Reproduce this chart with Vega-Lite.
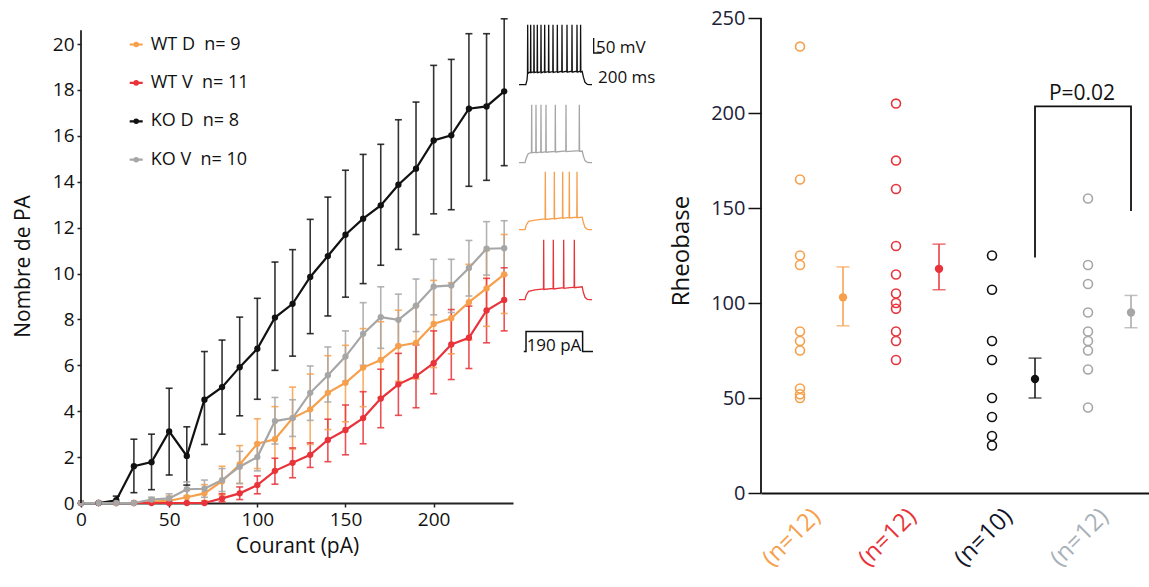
{
  "$schema": "https://vega.github.io/schema/vega-lite/v6.json",
  "padding": {"left": 12, "top": 8, "right": 0, "bottom": 0},
  "spacing": 3,
  "config": {"font": "Open Sans", "view": {"stroke": null}},
  "resolve": {"scale": {"x": "independent", "y": "independent", "color": "independent"}, "legend": {"color": "independent"}},
  "datasets": {
    "pa": [
      {"serie":"WT D","courant":0,"moy":0,"lo":null,"hi":null},
      {"serie":"WT D","courant":10,"moy":0,"lo":null,"hi":null},
      {"serie":"WT D","courant":20,"moy":0,"lo":null,"hi":null},
      {"serie":"WT D","courant":30,"moy":0,"lo":null,"hi":null},
      {"serie":"WT D","courant":40,"moy":0.05,"lo":0,"hi":0.15},
      {"serie":"WT D","courant":50,"moy":0.1,"lo":0,"hi":0.3},
      {"serie":"WT D","courant":60,"moy":0.25,"lo":0,"hi":0.55},
      {"serie":"WT D","courant":70,"moy":0.42,"lo":0.1,"hi":0.8},
      {"serie":"WT D","courant":80,"moy":0.95,"lo":0.35,"hi":1.6},
      {"serie":"WT D","courant":90,"moy":1.68,"lo":0.85,"hi":2.5},
      {"serie":"WT D","courant":100,"moy":2.58,"lo":1.5,"hi":3.67},
      {"serie":"WT D","courant":110,"moy":2.78,"lo":1.4,"hi":4.2},
      {"serie":"WT D","courant":120,"moy":3.7,"lo":2.35,"hi":5.05},
      {"serie":"WT D","courant":130,"moy":4.08,"lo":2.55,"hi":5.62},
      {"serie":"WT D","courant":140,"moy":4.8,"lo":3.2,"hi":6.42},
      {"serie":"WT D","courant":150,"moy":5.24,"lo":3.54,"hi":6.87},
      {"serie":"WT D","courant":160,"moy":5.9,"lo":4.2,"hi":7.6},
      {"serie":"WT D","courant":170,"moy":6.23,"lo":4.6,"hi":7.9},
      {"serie":"WT D","courant":180,"moy":6.84,"lo":5.3,"hi":8.4},
      {"serie":"WT D","courant":190,"moy":6.98,"lo":5.4,"hi":8.6},
      {"serie":"WT D","courant":200,"moy":7.8,"lo":5.9,"hi":9.7},
      {"serie":"WT D","courant":210,"moy":8.05,"lo":6.5,"hi":9.6},
      {"serie":"WT D","courant":220,"moy":8.75,"lo":7.1,"hi":10.4},
      {"serie":"WT D","courant":230,"moy":9.35,"lo":7.7,"hi":11.0},
      {"serie":"WT D","courant":240,"moy":9.96,"lo":8.26,"hi":11.7},
      {"serie":"WT V","courant":0,"moy":0,"lo":null,"hi":null},
      {"serie":"WT V","courant":10,"moy":0,"lo":null,"hi":null},
      {"serie":"WT V","courant":20,"moy":0,"lo":null,"hi":null},
      {"serie":"WT V","courant":30,"moy":0,"lo":null,"hi":null},
      {"serie":"WT V","courant":40,"moy":0,"lo":null,"hi":null},
      {"serie":"WT V","courant":50,"moy":0,"lo":null,"hi":null},
      {"serie":"WT V","courant":60,"moy":0,"lo":null,"hi":null},
      {"serie":"WT V","courant":70,"moy":0,"lo":null,"hi":null},
      {"serie":"WT V","courant":80,"moy":0.2,"lo":0.05,"hi":0.4},
      {"serie":"WT V","courant":90,"moy":0.42,"lo":0.15,"hi":0.7},
      {"serie":"WT V","courant":100,"moy":0.78,"lo":0.4,"hi":1.18},
      {"serie":"WT V","courant":110,"moy":1.4,"lo":0.82,"hi":1.95},
      {"serie":"WT V","courant":120,"moy":1.75,"lo":1.1,"hi":2.4},
      {"serie":"WT V","courant":130,"moy":2.1,"lo":1.55,"hi":2.62},
      {"serie":"WT V","courant":140,"moy":2.75,"lo":1.8,"hi":3.65},
      {"serie":"WT V","courant":150,"moy":3.18,"lo":2.1,"hi":4.27},
      {"serie":"WT V","courant":160,"moy":3.7,"lo":2.58,"hi":4.85},
      {"serie":"WT V","courant":170,"moy":4.55,"lo":3.28,"hi":5.83},
      {"serie":"WT V","courant":180,"moy":5.17,"lo":3.82,"hi":6.52},
      {"serie":"WT V","courant":190,"moy":5.53,"lo":4.15,"hi":6.89},
      {"serie":"WT V","courant":200,"moy":6.09,"lo":4.76,"hi":7.5},
      {"serie":"WT V","courant":210,"moy":6.91,"lo":5.38,"hi":8.43},
      {"serie":"WT V","courant":220,"moy":7.2,"lo":5.86,"hi":8.58},
      {"serie":"WT V","courant":230,"moy":8.39,"lo":6.98,"hi":9.79},
      {"serie":"WT V","courant":240,"moy":8.85,"lo":7.5,"hi":10.25},
      {"serie":"KO D","courant":0,"moy":0,"lo":null,"hi":null},
      {"serie":"KO D","courant":10,"moy":0,"lo":null,"hi":null},
      {"serie":"KO D","courant":20,"moy":0.12,"lo":0,"hi":0.3},
      {"serie":"KO D","courant":30,"moy":1.6,"lo":0.45,"hi":2.78},
      {"serie":"KO D","courant":40,"moy":1.78,"lo":0.58,"hi":3.0},
      {"serie":"KO D","courant":50,"moy":3.12,"lo":1.22,"hi":5.0},
      {"serie":"KO D","courant":60,"moy":2.05,"lo":0.78,"hi":3.32},
      {"serie":"KO D","courant":70,"moy":4.5,"lo":2.55,"hi":6.6},
      {"serie":"KO D","courant":80,"moy":5.05,"lo":3.0,"hi":7.1},
      {"serie":"KO D","courant":90,"moy":5.92,"lo":3.8,"hi":8.1},
      {"serie":"KO D","courant":100,"moy":6.72,"lo":4.52,"hi":8.92},
      {"serie":"KO D","courant":110,"moy":8.08,"lo":5.78,"hi":10.5},
      {"serie":"KO D","courant":120,"moy":8.68,"lo":6.4,"hi":11.04},
      {"serie":"KO D","courant":130,"moy":9.85,"lo":7.38,"hi":12.36},
      {"serie":"KO D","courant":140,"moy":10.76,"lo":8.15,"hi":13.33},
      {"serie":"KO D","courant":150,"moy":11.69,"lo":8.97,"hi":14.5},
      {"serie":"KO D","courant":160,"moy":12.39,"lo":9.56,"hi":15.19},
      {"serie":"KO D","courant":170,"moy":12.97,"lo":10.36,"hi":15.63},
      {"serie":"KO D","courant":180,"moy":13.87,"lo":11.05,"hi":16.7},
      {"serie":"KO D","courant":190,"moy":14.57,"lo":11.7,"hi":17.47},
      {"serie":"KO D","courant":200,"moy":15.8,"lo":12.6,"hi":19.07},
      {"serie":"KO D","courant":210,"moy":16.02,"lo":12.78,"hi":19.33},
      {"serie":"KO D","courant":220,"moy":17.18,"lo":13.8,"hi":20.45},
      {"serie":"KO D","courant":230,"moy":17.28,"lo":14.06,"hi":20.45},
      {"serie":"KO D","courant":240,"moy":17.94,"lo":14.7,"hi":21.1},
      {"serie":"KO V","courant":0,"moy":0,"lo":null,"hi":null},
      {"serie":"KO V","courant":10,"moy":0,"lo":null,"hi":null},
      {"serie":"KO V","courant":20,"moy":0,"lo":null,"hi":null},
      {"serie":"KO V","courant":30,"moy":0,"lo":null,"hi":null},
      {"serie":"KO V","courant":40,"moy":0.15,"lo":0.05,"hi":0.25},
      {"serie":"KO V","courant":50,"moy":0.2,"lo":0.05,"hi":0.4},
      {"serie":"KO V","courant":60,"moy":0.6,"lo":0.3,"hi":0.92},
      {"serie":"KO V","courant":70,"moy":0.62,"lo":0.25,"hi":1.0},
      {"serie":"KO V","courant":80,"moy":1.0,"lo":0.5,"hi":1.5},
      {"serie":"KO V","courant":90,"moy":1.58,"lo":0.85,"hi":2.25},
      {"serie":"KO V","courant":100,"moy":2.0,"lo":1.4,"hi":2.6},
      {"serie":"KO V","courant":110,"moy":3.57,"lo":2.57,"hi":4.6},
      {"serie":"KO V","courant":120,"moy":3.7,"lo":2.9,"hi":4.5},
      {"serie":"KO V","courant":130,"moy":4.8,"lo":3.6,"hi":5.97},
      {"serie":"KO V","courant":140,"moy":5.57,"lo":4.4,"hi":6.8},
      {"serie":"KO V","courant":150,"moy":6.38,"lo":5.3,"hi":7.5},
      {"serie":"KO V","courant":160,"moy":7.37,"lo":6.0,"hi":8.73},
      {"serie":"KO V","courant":170,"moy":8.1,"lo":6.74,"hi":9.42},
      {"serie":"KO V","courant":180,"moy":7.98,"lo":6.86,"hi":9.1},
      {"serie":"KO V","courant":190,"moy":8.6,"lo":7.47,"hi":9.76},
      {"serie":"KO V","courant":200,"moy":9.43,"lo":8.2,"hi":10.62},
      {"serie":"KO V","courant":210,"moy":9.48,"lo":8.3,"hi":10.62},
      {"serie":"KO V","courant":220,"moy":10.24,"lo":9.02,"hi":11.44},
      {"serie":"KO V","courant":230,"moy":11.08,"lo":9.93,"hi":12.26},
      {"serie":"KO V","courant":240,"moy":11.1,"lo":9.93,"hi":12.3}
    ],
    "traces": [
      {"trace":"KO D","t":0,"v":-70},{"trace":"KO D","t":170,"v":-70},{"trace":"KO D","t":200,"v":-55},{"trace":"KO D","t":212,"v":-35},
      {"trace":"KO D","t":217,"v":130},{"trace":"KO D","t":223,"v":-32},
      {"trace":"KO D","t":287,"v":-27},{"trace":"KO D","t":292,"v":130},{"trace":"KO D","t":298,"v":-30},
      {"trace":"KO D","t":370,"v":-27},{"trace":"KO D","t":375,"v":130},{"trace":"KO D","t":381,"v":-30},
      {"trace":"KO D","t":453,"v":-27},{"trace":"KO D","t":458,"v":130},{"trace":"KO D","t":464,"v":-30},
      {"trace":"KO D","t":545,"v":-27},{"trace":"KO D","t":550,"v":130},{"trace":"KO D","t":556,"v":-30},
      {"trace":"KO D","t":637,"v":-26},{"trace":"KO D","t":642,"v":130},{"trace":"KO D","t":648,"v":-29},
      {"trace":"KO D","t":737,"v":-26},{"trace":"KO D","t":742,"v":130},{"trace":"KO D","t":748,"v":-29},
      {"trace":"KO D","t":845,"v":-26},{"trace":"KO D","t":850,"v":130},{"trace":"KO D","t":856,"v":-29},
      {"trace":"KO D","t":953,"v":-26},{"trace":"KO D","t":958,"v":130},{"trace":"KO D","t":964,"v":-29},
      {"trace":"KO D","t":1070,"v":-25},{"trace":"KO D","t":1075,"v":130},{"trace":"KO D","t":1081,"v":-28},
      {"trace":"KO D","t":1195,"v":-25},{"trace":"KO D","t":1200,"v":130},{"trace":"KO D","t":1206,"v":-28},
      {"trace":"KO D","t":1320,"v":-25},{"trace":"KO D","t":1325,"v":130},{"trace":"KO D","t":1331,"v":-28},
      {"trace":"KO D","t":1445,"v":-25},{"trace":"KO D","t":1450,"v":130},{"trace":"KO D","t":1456,"v":-28},
      {"trace":"KO D","t":1535,"v":-25},{"trace":"KO D","t":1540,"v":130},{"trace":"KO D","t":1546,"v":-28},
      {"trace":"KO D","t":1580,"v":-26},{"trace":"KO D","t":1610,"v":-45},{"trace":"KO D","t":1650,"v":-62},{"trace":"KO D","t":1710,"v":-69},{"trace":"KO D","t":1770,"v":-70},{"trace":"KO D","t":1825,"v":-70},
      {"trace":"KO V","t":0,"v":-70},{"trace":"KO V","t":150,"v":-70},{"trace":"KO V","t":180,"v":-55},{"trace":"KO V","t":230,"v":-40},{"trace":"KO V","t":300,"v":-36},
      {"trace":"KO V","t":312,"v":-35},{"trace":"KO V","t":317,"v":123},{"trace":"KO V","t":323,"v":-37},
      {"trace":"KO V","t":420,"v":-35},{"trace":"KO V","t":425,"v":123},{"trace":"KO V","t":431,"v":-37},
      {"trace":"KO V","t":545,"v":-34},{"trace":"KO V","t":550,"v":123},{"trace":"KO V","t":556,"v":-36},
      {"trace":"KO V","t":670,"v":-33},{"trace":"KO V","t":675,"v":123},{"trace":"KO V","t":681,"v":-35},
      {"trace":"KO V","t":903,"v":-32},{"trace":"KO V","t":908,"v":123},{"trace":"KO V","t":914,"v":-34},
      {"trace":"KO V","t":1170,"v":-31},{"trace":"KO V","t":1175,"v":123},{"trace":"KO V","t":1181,"v":-33},
      {"trace":"KO V","t":1503,"v":-30},{"trace":"KO V","t":1508,"v":123},{"trace":"KO V","t":1514,"v":-32},
      {"trace":"KO V","t":1580,"v":-31},{"trace":"KO V","t":1610,"v":-48},{"trace":"KO V","t":1650,"v":-63},{"trace":"KO V","t":1710,"v":-69},{"trace":"KO V","t":1770,"v":-70},{"trace":"KO V","t":1825,"v":-70},
      {"trace":"WT D","t":0,"v":-70},{"trace":"WT D","t":150,"v":-70},{"trace":"WT D","t":180,"v":-55},{"trace":"WT D","t":240,"v":-42},{"trace":"WT D","t":400,"v":-38},
      {"trace":"WT D","t":653,"v":-34},{"trace":"WT D","t":658,"v":123},{"trace":"WT D","t":664,"v":-36},
      {"trace":"WT D","t":878,"v":-32},{"trace":"WT D","t":883,"v":123},{"trace":"WT D","t":889,"v":-34},
      {"trace":"WT D","t":1087,"v":-30},{"trace":"WT D","t":1092,"v":123},{"trace":"WT D","t":1098,"v":-32},
      {"trace":"WT D","t":1253,"v":-29},{"trace":"WT D","t":1258,"v":123},{"trace":"WT D","t":1264,"v":-31},
      {"trace":"WT D","t":1445,"v":-28},{"trace":"WT D","t":1450,"v":123},{"trace":"WT D","t":1456,"v":-30},
      {"trace":"WT D","t":1580,"v":-28},{"trace":"WT D","t":1610,"v":-46},{"trace":"WT D","t":1650,"v":-62},{"trace":"WT D","t":1710,"v":-69},{"trace":"WT D","t":1770,"v":-70},{"trace":"WT D","t":1825,"v":-70},
      {"trace":"WT V","t":0,"v":-70},{"trace":"WT V","t":150,"v":-70},{"trace":"WT V","t":180,"v":-55},{"trace":"WT V","t":240,"v":-42},{"trace":"WT V","t":400,"v":-37},
      {"trace":"WT V","t":612,"v":-34},{"trace":"WT V","t":617,"v":130},{"trace":"WT V","t":623,"v":-36},
      {"trace":"WT V","t":853,"v":-32},{"trace":"WT V","t":858,"v":130},{"trace":"WT V","t":864,"v":-34},
      {"trace":"WT V","t":1112,"v":-30},{"trace":"WT V","t":1117,"v":130},{"trace":"WT V","t":1123,"v":-32},
      {"trace":"WT V","t":1378,"v":-28},{"trace":"WT V","t":1383,"v":130},{"trace":"WT V","t":1389,"v":-30},
      {"trace":"WT V","t":1580,"v":-27},{"trace":"WT V","t":1610,"v":-46},{"trace":"WT V","t":1650,"v":-62},{"trace":"WT V","t":1710,"v":-69},{"trace":"WT V","t":1770,"v":-70},{"trace":"WT V","t":1825,"v":-70}
    ],
    "scalebar": [
      {"i":1,"t":1867,"v":85.7},{"i":2,"t":1867,"v":35.7},{"i":3,"t":2067,"v":35.7}
    ],
    "scaletext": [
      {"label":"50 mV","t":1925,"v":54},{"label":"200 ms","t":1975,"v":-48.6}
    ],
    "stim": [
      {"i":1,"t":120,"v":0},{"i":2,"t":175,"v":0},{"i":3,"t":176,"v":190},{"i":4,"t":1590,"v":190},{"i":5,"t":1591,"v":0},{"i":6,"t":1850,"v":0}
    ],
    "stimtext": [{"label":"190 pA","t":875,"v":49}],
    "cells": [
      {"group":"WT D","kind":"cellules","value":235},{"group":"WT D","kind":"cellules","value":165},{"group":"WT D","kind":"cellules","value":125},{"group":"WT D","kind":"cellules","value":120},{"group":"WT D","kind":"cellules","value":85},{"group":"WT D","kind":"cellules","value":80},{"group":"WT D","kind":"cellules","value":75},{"group":"WT D","kind":"cellules","value":55},{"group":"WT D","kind":"cellules","value":52},{"group":"WT D","kind":"cellules","value":50},
      {"group":"WT V","kind":"cellules","value":205},{"group":"WT V","kind":"cellules","value":175},{"group":"WT V","kind":"cellules","value":160},{"group":"WT V","kind":"cellules","value":130},{"group":"WT V","kind":"cellules","value":115},{"group":"WT V","kind":"cellules","value":105},{"group":"WT V","kind":"cellules","value":100},{"group":"WT V","kind":"cellules","value":97},{"group":"WT V","kind":"cellules","value":85},{"group":"WT V","kind":"cellules","value":80},{"group":"WT V","kind":"cellules","value":70},
      {"group":"KO D","kind":"cellules","value":125},{"group":"KO D","kind":"cellules","value":107},{"group":"KO D","kind":"cellules","value":80},{"group":"KO D","kind":"cellules","value":70},{"group":"KO D","kind":"cellules","value":50},{"group":"KO D","kind":"cellules","value":40},{"group":"KO D","kind":"cellules","value":30},{"group":"KO D","kind":"cellules","value":25},
      {"group":"KO V","kind":"cellules","value":155},{"group":"KO V","kind":"cellules","value":120},{"group":"KO V","kind":"cellules","value":110},{"group":"KO V","kind":"cellules","value":95},{"group":"KO V","kind":"cellules","value":85},{"group":"KO V","kind":"cellules","value":80},{"group":"KO V","kind":"cellules","value":75},{"group":"KO V","kind":"cellules","value":65},{"group":"KO V","kind":"cellules","value":45}
    ],
    "means": [
      {"group":"WT D","kind":"moyenne","mean":103,"lo":88,"hi":119},
      {"group":"WT V","kind":"moyenne","mean":118,"lo":107,"hi":131},
      {"group":"KO D","kind":"moyenne","mean":60,"lo":50,"hi":71},
      {"group":"KO V","kind":"moyenne","mean":95,"lo":87,"hi":104}
    ],
    "bracket": [
      {"i":1,"group":"KO D","kind":"moyenne","v":124},
      {"i":2,"group":"KO D","kind":"moyenne","v":203.5},
      {"i":3,"group":"KO V","kind":"moyenne","v":203.5},
      {"i":4,"group":"KO V","kind":"moyenne","v":148.5}
    ],
    "ptext": [{"label":"P=0.02","group":"KO V","kind":"cellules","v":203.5}]
  },
  "hconcat": [
    {
      "width": 432,
      "height": 495,
      "layer": [
        {
          "data": {"name": "pa"},
          "mark": {"type": "rule", "strokeWidth": 1.6, "opacity": 0.85},
          "encoding": {
            "x": {"field": "courant", "type": "quantitative"},
            "y": {"field": "lo", "type": "quantitative"},
            "y2": {"field": "hi"},
            "color": {"field": "serie", "type": "nominal"}
          }
        },
        {
          "data": {"name": "pa"},
          "mark": {"type": "tick", "orient": "horizontal", "size": 7, "thickness": 1.6, "opacity": 0.85},
          "encoding": {
            "x": {"field": "courant", "type": "quantitative"},
            "y": {"field": "lo", "type": "quantitative"},
            "color": {"field": "serie", "type": "nominal"}
          }
        },
        {
          "data": {"name": "pa"},
          "mark": {"type": "tick", "orient": "horizontal", "size": 7, "thickness": 1.6, "opacity": 0.85},
          "encoding": {
            "x": {"field": "courant", "type": "quantitative"},
            "y": {"field": "hi", "type": "quantitative"},
            "color": {"field": "serie", "type": "nominal"}
          }
        },
        {
          "data": {"name": "pa"},
          "mark": {"type": "line", "strokeWidth": 2.2},
          "encoding": {
            "x": {"field": "courant", "type": "quantitative"},
            "y": {"field": "moy", "type": "quantitative"},
            "color": {"field": "serie", "type": "nominal"}
          }
        },
        {
          "data": {"name": "pa"},
          "mark": {"type": "point", "filled": true, "size": 40, "opacity": 1},
          "encoding": {
            "x": {"field": "courant", "type": "quantitative",
              "scale": {"domain": [0, 245], "nice": false},
              "axis": {"title": "Courant (pA)", "values": [0, 50, 100, 150, 200], "grid": false, "labelFlush": false,
                "domainColor": "#222", "domainWidth": 1.8, "tickColor": "#222", "tickWidth": 1.5, "tickSize": 4,
                "labelFontSize": 19, "labelColor": "#111", "labelPadding": 3,
                "titleFontSize": 21, "titleFontWeight": "normal", "titleColor": "#111", "titlePadding": 6}},
            "y": {"field": "moy", "type": "quantitative",
              "scale": {"domain": [0, 21.57], "nice": false},
              "axis": {"title": "Nombre de PA", "values": [0, 2, 4, 6, 8, 10, 12, 14, 16, 18, 20], "grid": false, "labelFlush": false,
                "domain": false, "tickColor": "#222", "tickWidth": 1.5, "tickSize": 4,
                "labelFontSize": 19, "labelColor": "#111", "labelPadding": 3,
                "titleFontSize": 21, "titleFontWeight": "normal", "titleColor": "#111",
                "titleX": -58, "titleY": 258, "titleBaseline": "middle"}},
            "color": {"field": "serie", "type": "nominal",
              "scale": {"domain": ["WT D", "WT V", "KO D", "KO V"], "range": ["#F6A04D", "#E8333A", "#111111", "#A6A6A6"]},
              "legend": {"title": null, "orient": "none", "legendX": 40.7, "legendY": 22, "padding": 0,
                "symbolType": "M-0.5,0H0.5M0.13,0A0.13,0.13,0,1,1,-0.13,0A0.13,0.13,0,1,1,0.13,0",
                "symbolSize": 676, "symbolStrokeWidth": 2.2, "symbolOpacity": 1,
                "labelFontSize": 18, "labelColor": "#111", "labelOffset": 0, "rowPadding": 14.4,
                "labelExpr": "datum.label == 'WT D' ? 'WT D\u00a0\u00a0n=\u00a09' : datum.label == 'WT V' ? 'WT V\u00a0\u00a0n=\u00a011' : datum.label == 'KO D' ? 'KO D\u00a0\u00a0n=\u00a08' : 'KO V\u00a0\u00a0n=\u00a010'",
                "encode": {"symbols": {"update": {"fill": {"scale": "color", "field": "value"}, "stroke": {"scale": "color", "field": "value"}}}}}
            }
          }
        },
        {
          "data": {"values": [{"a": 0}]},
          "mark": {"type": "rule", "color": "#222", "strokeWidth": 1.8},
          "encoding": {
            "x": {"datum": 0, "type": "quantitative"},
            "y": {"datum": 0, "type": "quantitative"},
            "y2": {"datum": 20.6}
          }
        }
      ]
    },
    {
      "vconcat": [
        {
          "width": 147, "height": 84,
          "layer": [
            {"data": {"name": "traces"}, "transform": [{"filter": "datum.trace == 'KO D'"}],
              "mark": {"type": "line", "color": "#111111", "strokeWidth": 1.3},
              "encoding": {
                "x": {"field": "t", "type": "quantitative", "scale": {"domain": [0, 3675], "nice": false, "zero": false}, "axis": null},
                "y": {"field": "v", "type": "quantitative", "scale": {"domain": [-94.3, 185.7], "nice": false, "zero": false}, "axis": null}}},
            {"data": {"name": "scalebar"},
              "mark": {"type": "line", "color": "#111111", "strokeWidth": 1.3},
              "encoding": {"x": {"field": "t", "type": "quantitative"}, "y": {"field": "v", "type": "quantitative"}, "order": {"field": "i"}}},
            {"data": {"name": "scaletext"},
              "mark": {"type": "text", "align": "left", "baseline": "middle", "fontSize": 17, "color": "#111111"},
              "encoding": {"x": {"field": "t", "type": "quantitative"}, "y": {"field": "v", "type": "quantitative"}, "text": {"field": "label"}}}
          ]
        },
        {
          "width": 147, "height": 76,
          "data": {"name": "traces"}, "transform": [{"filter": "datum.trace == 'KO V'"}],
          "mark": {"type": "line", "color": "#A6A6A6", "strokeWidth": 1.3},
          "encoding": {
            "x": {"field": "t", "type": "quantitative", "scale": {"domain": [0, 3675], "nice": false, "zero": false}, "axis": null},
            "y": {"field": "v", "type": "quantitative", "scale": {"domain": [-87.6, 165.7], "nice": false, "zero": false}, "axis": null}}
        },
        {
          "width": 147, "height": 70,
          "data": {"name": "traces"}, "transform": [{"filter": "datum.trace == 'WT D'"}],
          "mark": {"type": "line", "color": "#F6A04D", "strokeWidth": 1.3},
          "encoding": {
            "x": {"field": "t", "type": "quantitative", "scale": {"domain": [0, 3675], "nice": false, "zero": false}, "axis": null},
            "y": {"field": "v", "type": "quantitative", "scale": {"domain": [-97.6, 135.7], "nice": false, "zero": false}, "axis": null}}
        },
        {
          "width": 147, "height": 72,
          "data": {"name": "traces"}, "transform": [{"filter": "datum.trace == 'WT V'"}],
          "mark": {"type": "line", "color": "#E8333A", "strokeWidth": 1.3},
          "encoding": {
            "x": {"field": "t", "type": "quantitative", "scale": {"domain": [0, 3675], "nice": false, "zero": false}, "axis": null},
            "y": {"field": "v", "type": "quantitative", "scale": {"domain": [-104.3, 135.7], "nice": false, "zero": false}, "axis": null}}
        },
        {
          "width": 147, "height": 50,
          "layer": [
            {"data": {"name": "stim"},
              "mark": {"type": "line", "color": "#111111", "strokeWidth": 1.5},
              "encoding": {
                "x": {"field": "t", "type": "quantitative", "scale": {"domain": [0, 3675], "nice": false, "zero": false}, "axis": null},
                "y": {"field": "v", "type": "quantitative", "scale": {"domain": [-82, 394], "nice": false, "zero": false}, "axis": null},
                "order": {"field": "i"}}},
            {"data": {"name": "stimtext"},
              "mark": {"type": "text", "align": "center", "baseline": "middle", "fontSize": 17, "color": "#111111"},
              "encoding": {"x": {"field": "t", "type": "quantitative"}, "y": {"field": "v", "type": "quantitative"}, "text": {"field": "label"}}}
          ]
        }
      ],
      "spacing": 0,
      "bounds": "flush"
    },
    {
      "width": 389,
      "height": 485,
      "layer": [
        {
          "data": {"name": "cells"},
          "mark": {"type": "point", "filled": false, "size": 80, "strokeWidth": 1.6, "opacity": 1},
          "encoding": {
            "x": {"field": "group", "type": "nominal",
              "scale": {"domain": ["WT D", "WT V", "KO D", "KO V"], "paddingInner": 0, "paddingOuter": 0.026, "align": 0},
              "axis": {"title": null, "domainColor": "#111", "domainWidth": 1.8, "ticks": false,
                "labelAngle": -45, "labelFontSize": 24, "labelPadding": 11, "labelOffset": -1,
                "labelExpr": "datum.value == 'KO D' ? '(n=10)' : '(n=12)'",
                "labelColor": {"condition": [
                  {"test": "datum.value == 'WT D'", "value": "#F6A04D"},
                  {"test": "datum.value == 'WT V'", "value": "#E8333A"},
                  {"test": "datum.value == 'KO D'", "value": "#15152a"}], "value": "#A8B0B8"}}},
            "xOffset": {"field": "kind", "type": "nominal",
              "scale": {"domain": ["cellules", "moyenne"], "paddingInner": 0.349, "paddingOuter": 0.2908, "align": 1}},
            "y": {"field": "value", "type": "quantitative",
              "scale": {"domain": [0, 255.3], "nice": false},
              "axis": {"title": "Rheobase", "values": [0, 50, 100, 150, 200, 250], "grid": false, "labelFlush": false,
                "domain": false, "tickColor": "#111", "tickWidth": 1.5, "tickSize": 13,
                "labelFontSize": 20, "labelColor": "#1b2238", "labelPadding": 3,
                "titleFontSize": 24, "titleFontWeight": "normal", "titleColor": "#111",
                "titleX": -80, "titleBaseline": "middle"}},
            "color": {"field": "group", "type": "nominal",
              "scale": {"domain": ["WT D", "WT V", "KO D", "KO V"], "range": ["#F6A04D", "#E8333A", "#111111", "#A6A6A6"]},
              "legend": null}
          }
        },
        {
          "data": {"name": "means"},
          "mark": {"type": "rule", "strokeWidth": 1.5},
          "encoding": {
            "x": {"field": "group", "type": "nominal"},
            "xOffset": {"field": "kind", "type": "nominal"},
            "y": {"field": "lo", "type": "quantitative"},
            "y2": {"field": "hi"},
            "color": {"field": "group", "type": "nominal", "legend": null}
          }
        },
        {
          "data": {"name": "means"},
          "mark": {"type": "tick", "orient": "horizontal", "size": 13, "thickness": 1.5},
          "encoding": {
            "x": {"field": "group", "type": "nominal"},
            "xOffset": {"field": "kind", "type": "nominal"},
            "y": {"field": "lo", "type": "quantitative"},
            "color": {"field": "group", "type": "nominal", "legend": null}
          }
        },
        {
          "data": {"name": "means"},
          "mark": {"type": "tick", "orient": "horizontal", "size": 13, "thickness": 1.5},
          "encoding": {
            "x": {"field": "group", "type": "nominal"},
            "xOffset": {"field": "kind", "type": "nominal"},
            "y": {"field": "hi", "type": "quantitative"},
            "color": {"field": "group", "type": "nominal", "legend": null}
          }
        },
        {
          "data": {"name": "means"},
          "mark": {"type": "point", "filled": true, "size": 70, "opacity": 1},
          "encoding": {
            "x": {"field": "group", "type": "nominal"},
            "xOffset": {"field": "kind", "type": "nominal"},
            "y": {"field": "mean", "type": "quantitative"},
            "color": {"field": "group", "type": "nominal", "legend": null}
          }
        },
        {
          "data": {"name": "bracket"},
          "mark": {"type": "line", "color": "#111111", "strokeWidth": 1.8},
          "encoding": {
            "x": {"field": "group", "type": "nominal"},
            "xOffset": {"field": "kind", "type": "nominal"},
            "y": {"field": "v", "type": "quantitative"},
            "order": {"field": "i"}
          }
        },
        {
          "data": {"name": "ptext"},
          "mark": {"type": "text", "fontSize": 21, "baseline": "alphabetic", "align": "center", "dx": -6, "dy": -6, "color": "#111111"},
          "encoding": {
            "x": {"field": "group", "type": "nominal"},
            "xOffset": {"field": "kind", "type": "nominal"},
            "y": {"field": "v", "type": "quantitative"},
            "text": {"field": "label"}
          }
        },
        {
          "data": {"values": [{"a": 0}]},
          "mark": {"type": "rule", "color": "#111111", "strokeWidth": 1.8},
          "encoding": {
            "x": {"datum": "WT D", "bandPosition": 0},
            "y": {"datum": 0, "type": "quantitative"},
            "y2": {"datum": 250}
          }
        }
      ]
    }
  ]
}
